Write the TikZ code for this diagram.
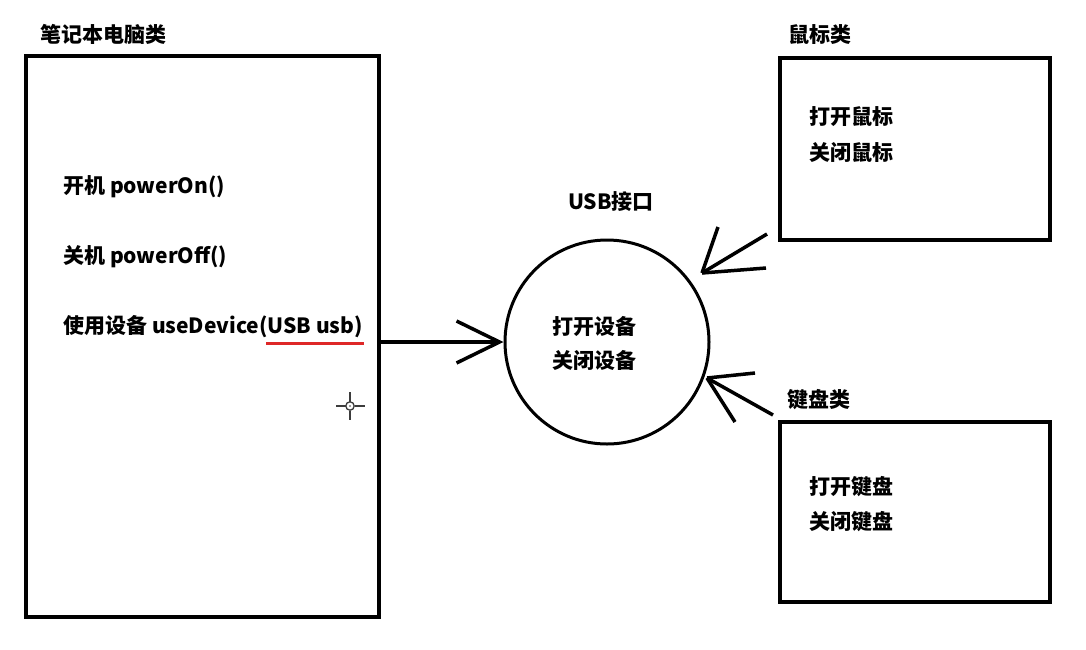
\documentclass[tikz,border=0pt]{standalone}
\usepackage{fontspec}
\setmainfont{Noto Sans CJK SC}
\usepackage{xcolor}
\usepackage{tikz}
\usetikzlibrary{arrows.meta, positioning, calc}

\definecolor{penred}{RGB}{222,40,40}
\definecolor{cursorgray}{RGB}{60,60,60}

\begin{document}
\begin{tikzpicture}[x=1pt, y=-1pt,
  font=\fontsize{21}{25}\selectfont\bfseries,
  classbox/.style={draw, line width=4pt, inner sep=0pt},
  txt/.style={anchor=west, inner sep=0pt},
  pen/.style={line width=3.5pt}]
\useasboundingbox[fill=white] (0,0) rectangle (1086,649);

% Laptop class
\node[txt] (laptoptitle) at (40,34) {笔记本电脑类};
\node[classbox, minimum width=353pt, minimum height=561pt] (laptop) at (202.5,336.5) {};
\node[txt] (poweron) at (63,187) {开机 powerOn()};
\node[txt] (poweroff) at (63,257) {关机 powerOff()};
\node[txt] (usedevice) at (63,327) {使用设备 useDevice(USB usb)};
\draw[penred, line width=3pt] (266,343) -- (364,343);

% cursor
\begin{scope}[cursorgray, line width=1.3pt]
\draw (350,392) -- (350,401.5);
\draw (350,410.5) -- (350,420);
\draw (336,406) -- (345.5,406);
\draw (354.5,406) -- (365,406);
\draw (350,406) circle (4.2);
\fill (350,406) circle (0.9);
\end{scope}

% USB interface
\node[circle, draw, line width=3pt, minimum size=204pt, inner sep=0pt] (usb) at (607,342) {};
\node (usbtitle) at (611,202) {USB接口};
\node (usbopen) at (594,326) {打开设备};
\node (usbclose) at (594,360) {关闭设备};
\draw[pen, -{Straight Barb[length=43pt, width=42pt, line cap=butt]}] (laptop.east |- usb.west) -- (usb.west);

% Mouse class
\node[txt] (mousetitle) at (788,35) {鼠标类};
\node[classbox, minimum width=270pt, minimum height=182pt] (mouse) at (915,149) {};
\node[txt] (mouseopen) at (809,117) {打开鼠标};
\node[txt] (mouseclose) at (809,152) {关闭鼠标};
\coordinate (mtip) at (702,273);
\coordinate (mtail) at (767,234);
\foreach \p in {(mtail), (718,227), (766,268)}
  \draw[pen] \p -- (mtip);

% Keyboard class
\node[txt] (keytitle) at (787,400) {键盘类};
\node[classbox, minimum width=270pt, minimum height=180pt] (keyboard) at (915,512) {};
\node[txt] (keyopen) at (809,487) {打开键盘};
\node[txt] (keyclose) at (809,522) {关闭键盘};
\coordinate (ktip) at (707,378);
\coordinate (ktail) at (773,415);
\foreach \p in {(ktail), (755,373), (735,422)}
  \draw[pen] \p -- (ktip);
\end{tikzpicture}
\end{document}
